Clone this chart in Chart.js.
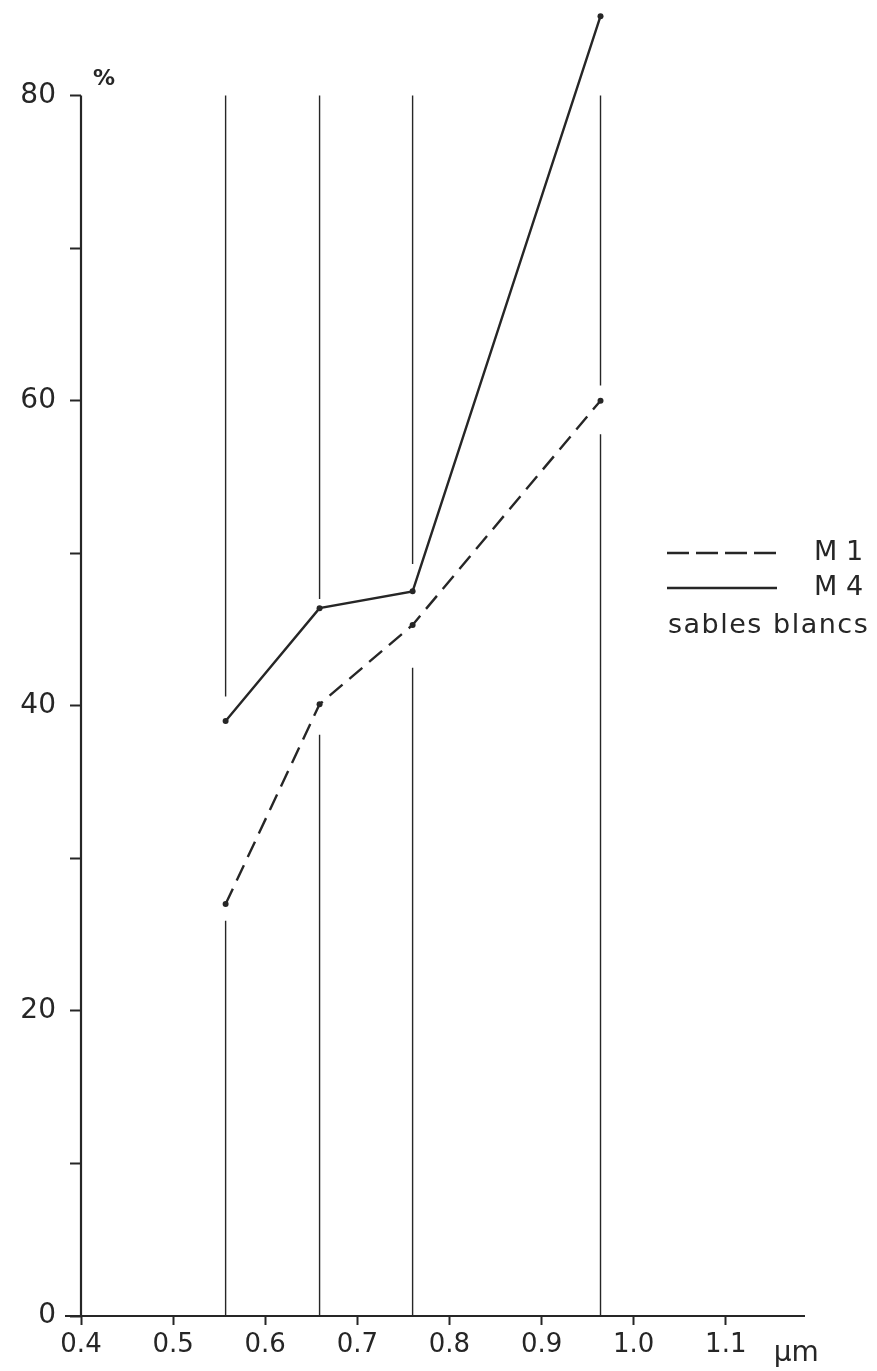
<!DOCTYPE html>
<html>
<head>
<meta charset="utf-8">
<script src="https://cdn.jsdelivr.net/npm/chart.js@4/dist/chart.umd.min.js"></script>
<style>
  html, body { margin: 0; padding: 0; background: #fff; }
  #wrap { width: 877px; height: 1371px; position: relative; }
</style>
</head>
<body>
<div id="wrap"><canvas id="chart" width="877" height="1371"></canvas></div>
<script>
// wavelength of each band (µm) and reflectance (%)
const wavelengths = [0.557, 0.659, 0.76, 0.964];
const m1Values = [27.0, 40.1, 45.3, 60.0];
const m4Values = [39.0, 46.4, 47.5, 85.2];

// vertical band lines are broken where the curves cross them
const bandLowerEnd = [25.9, 38.1, 42.5, 57.8];
const bandUpperStart = [40.6, 47.0, 49.3, 61.0];
const bandTop = 80;

const xTicks = [0.4, 0.5, 0.6, 0.7, 0.8, 0.9, 1.0, 1.1];
const yTicks = [0, 10, 20, 30, 40, 50, 60, 70, 80];
const yLabelled = [0, 20, 40, 60, 80];

const ink = '#262626';
const font = "'DejaVu Sans', sans-serif";

const bandPoints = [];
wavelengths.forEach((x, i) => {
    bandPoints.push({ x: x, y: 0 }, { x: x, y: bandLowerEnd[i] }, { x: x, y: null });
    bandPoints.push({ x: x, y: bandUpperStart[i] }, { x: x, y: bandTop }, { x: x, y: null });
});

const extras = {
    id: 'extras',
    afterDraw(chart) {
        const ctx = chart.ctx;
        const xs = chart.scales.x, ys = chart.scales.y;
        const x0 = xs.getPixelForValue(0.4);
        const y0 = ys.getPixelForValue(0);
        const y80 = ys.getPixelForValue(80);
        ctx.save();
        ctx.strokeStyle = ink;
        ctx.lineWidth = 2.2;
        ctx.setLineDash([]);
        // axes
        ctx.beginPath();
        ctx.moveTo(x0, y0);
        ctx.lineTo(x0, y80);
        ctx.moveTo(x0 - 16, y0);
        ctx.lineTo(chart.chartArea.right, y0);
        ctx.stroke();

        ctx.fillStyle = ink;
        ctx.font = 'bold 22px ' + font;
        ctx.textAlign = 'left';
        ctx.textBaseline = 'middle';
        ctx.fillText('%', x0 + 12, y80 - 16);
        ctx.font = '28px ' + font;
        ctx.fillText('µm', xs.getPixelForValue(1.152), y0 + 38);

        // legend
        const m1 = chart.data.datasets[1], m4 = chart.data.datasets[2];
        ctx.lineWidth = 2.4;
        ctx.setLineDash([22, 7]);
        ctx.beginPath();
        ctx.moveTo(667, 553); ctx.lineTo(777, 553);
        ctx.stroke();
        ctx.setLineDash([]);
        ctx.beginPath();
        ctx.moveTo(667, 588); ctx.lineTo(777, 588);
        ctx.stroke();
        ctx.font = '27px ' + font;
        ctx.fillText(m1.label, 814, 553);
        ctx.fillText(m4.label, 814, 588);
        ctx.letterSpacing = '1.5px';
        ctx.fillText('sables blancs', 668, 626);
        ctx.restore();
    }
};

new Chart(document.getElementById('chart').getContext('2d'), {
    type: 'scatter',
    data: {
        datasets: [
            {
                label: 'bands',
                data: bandPoints,
                showLine: true,
                spanGaps: false,
                borderColor: ink,
                borderWidth: 1.4,
                pointRadius: 0
            },
            {
                label: 'M 1',
                data: wavelengths.map((x, i) => ({ x: x, y: m1Values[i] })),
                showLine: true,
                borderColor: ink,
                borderWidth: 2.4,
                borderDash: [17, 9],
                pointRadius: 3,
                pointBackgroundColor: ink,
                pointBorderWidth: 0
            },
            {
                label: 'M 4',
                data: wavelengths.map((x, i) => ({ x: x, y: m4Values[i] })),
                showLine: true,
                borderColor: ink,
                borderWidth: 2.4,
                pointRadius: 3,
                pointBackgroundColor: ink,
                pointBorderWidth: 0
            }
        ]
    },
    options: {
        responsive: false,
        animation: false,
        clip: false,
        layout: { padding: { top: 1, right: 72, left: 0, bottom: 0 } },
        plugins: { legend: { display: false }, tooltip: { enabled: false } },
        scales: {
            x: {
                type: 'linear',
                min: 0.4,
                max: 1.186,
                afterFit: s => { s.height = 55; },
                afterBuildTicks: s => { s.ticks = xTicks.map(v => ({ value: v })); },
                border: { display: false },
                grid: { drawOnChartArea: false, tickLength: 9, color: ink, tickWidth: 2 },
                ticks: {
                    color: ink,
                    padding: 5,
                    font: { family: font, size: 26 },
                    callback: v => Number(v).toFixed(1)
                }
            },
            y: {
                min: 0,
                max: 86,
                afterFit: s => { s.width = 81; s.paddingTop = 0; s.paddingBottom = 0; },
                afterBuildTicks: s => { s.ticks = yTicks.map(v => ({ value: v })); },
                border: { display: false },
                grid: { drawOnChartArea: false, tickLength: 11, color: ink, tickWidth: 2 },
                ticks: {
                    color: ink,
                    padding: 14,
                    font: { family: font, size: 28 },
                    callback: v => yLabelled.includes(v) ? String(v) : ''
                }
            }
        }
    },
    plugins: [extras]
});
</script>
</body>
</html>
